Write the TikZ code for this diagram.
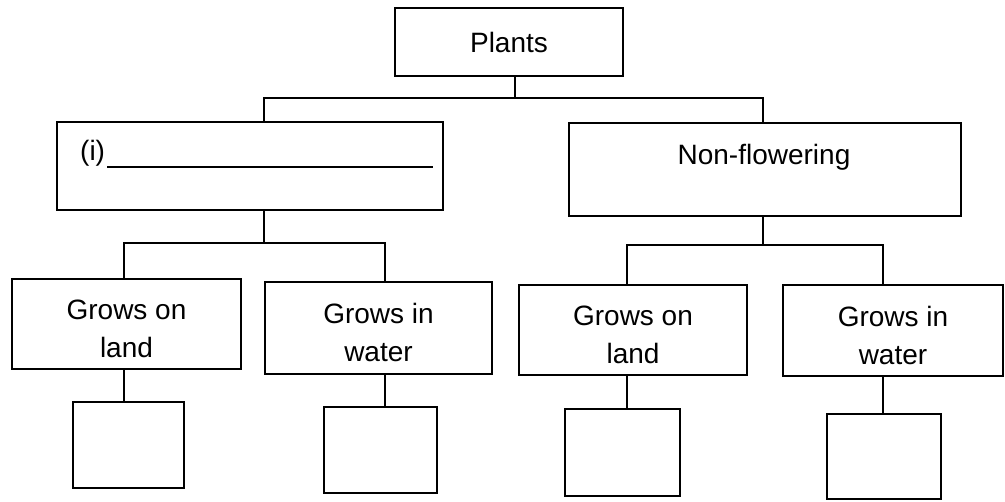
\documentclass[tikz,border=0pt]{standalone}
\usepackage{fontspec}
\setmainfont{Liberation Sans}
\newcommand{\topstrut}{\rule{0pt}{30pt}}
\begin{document}
\begin{tikzpicture}[x=1pt,y=-1pt,
  box/.style={draw, line width=2pt, rectangle, anchor=north west, inner sep=0pt, outer sep=0pt,
    font=\fontsize{28}{38}\selectfont, align=center},
  lbl/.style={font=\fontsize{28}{38}\selectfont, inner sep=0pt},
  conn/.style={line width=2pt}]
\useasboundingbox (0,0) rectangle (1005,502);
% top
\node[box, minimum width=228pt, minimum height=68pt] (plants) at (395,8) {Plants};
% level 1
\node[box, minimum width=386pt, minimum height=88pt] (L1) at (57,122) {};
\node[box, minimum width=392pt, minimum height=93pt] (R1) at (569,123) {};
\node[lbl, anchor=base west] (itext) at (80,161) {(i)};
\coordinate (uEnd) at (433,167);
\draw[line width=2pt] (itext.east |- uEnd) ++(2,0) -- (uEnd);
\node[lbl] (nf) at (764,157) {Non-flowering};
% level 2
\node[box, minimum width=229pt, minimum height=90pt] (B1) at (12,279) {\topstrut Grows on\\land};
\node[box, minimum width=227pt, minimum height=92pt] (B2) at (265,282) {\topstrut Grows in\\water};
\node[box, minimum width=228pt, minimum height=90pt] (B3) at (519,285) {\topstrut Grows on\\land};
\node[box, minimum width=220pt, minimum height=91pt] (B4) at (783,285) {\topstrut Grows in\\water};
% level 3
\node[box, minimum width=111pt, minimum height=86pt] (S1) at (73,402) {};
\node[box, minimum width=113pt, minimum height=86pt] (S2) at (324,407) {};
\node[box, minimum width=115pt, minimum height=87pt] (S3) at (565,409) {};
\node[box, minimum width=114pt, minimum height=85pt] (S4) at (827,414) {};
% connectors level 0-1
\coordinate (j0) at (515,98);
\coordinate (jL) at (264,98);
\coordinate (jR) at (763,98);
\draw[conn] (plants.south -| j0) -- (j0);
\draw[conn] (L1.north -| jL) -- (jL) -- (jR) -- (R1.north -| jR);
% connectors level 1-2 left
\coordinate (k0) at (264,243);
\coordinate (kL) at (124,243);
\coordinate (kR) at (385,243);
\draw[conn] (L1.south -| k0) -- (k0);
\draw[conn] (B1.north -| kL) -- (kL) -- (kR) -- (B2.north -| kR);
% connectors level 1-2 right
\coordinate (m0) at (763,245);
\coordinate (mL) at (627,245);
\coordinate (mR) at (883,245);
\draw[conn] (R1.south -| m0) -- (m0);
\draw[conn] (B3.north -| mL) -- (mL) -- (mR) -- (B4.north -| mR);
% connectors level 2-3
\draw[conn] (B1.south -| kL) -- (S1.north -| kL);
\draw[conn] (B2.south -| kR) -- (S2.north -| kR);
\draw[conn] (B3.south -| mL) -- (S3.north -| mL);
\draw[conn] (B4.south -| mR) -- (S4.north -| mR);
\end{tikzpicture}
\end{document}
